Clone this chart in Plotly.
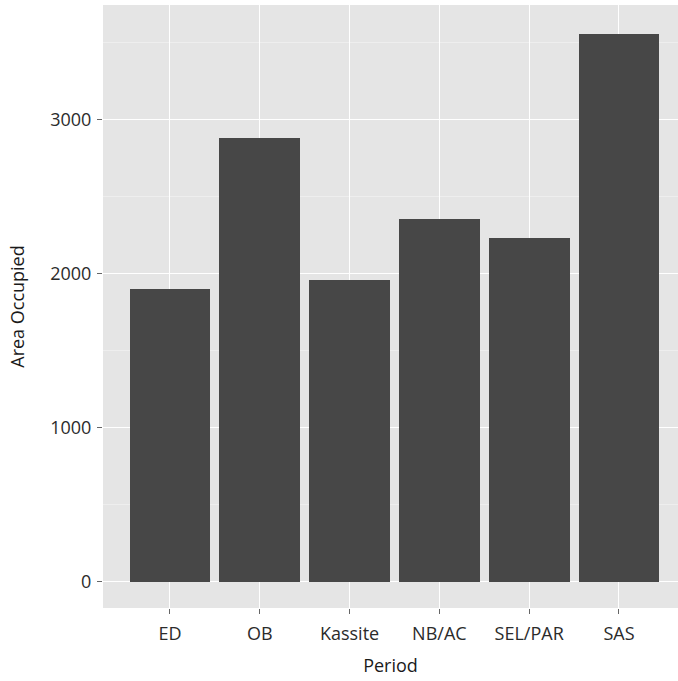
import plotly.graph_objects as go

periods = ["ED", "OB", "Kassite", "NB/AC", "SEL/PAR", "SAS"]
area_occupied = [1897, 2881, 1957, 2353, 2231, 3557]
y_ticks = [0, 1000, 2000, 3000]

FONT = "Open Sans"

fig = go.Figure(go.Bar(
    x=list(range(len(periods))),
    y=area_occupied,
    width=0.9,
    marker=dict(color="#474747", line=dict(width=0)),
))

fig.update_layout(
    width=678, height=681,
    margin=dict(l=103, r=0, t=5, b=73),
    paper_bgcolor="white",
    plot_bgcolor="#E5E5E5",
    showlegend=False,
    font=dict(family=FONT, size=18, color="#333333"),
    bargap=0,
)

fig.update_xaxes(
    range=[-0.745, 5.657],
    tickmode="array",
    tickvals=list(range(len(periods))),
    ticktext=periods,
    showgrid=True, gridcolor="white", gridwidth=1,
    zeroline=False,
    ticks="outside", ticklen=5, tickcolor="#666666", tickwidth=1,
    tickfont=dict(family=FONT, size=18, color="#2b2b2b"),
    ticklabelstandoff=4,
    title=dict(text="Period", font=dict(family=FONT, size=18, color="#1a1a1a"), standoff=15),
    showline=False,
)

fig.update_yaxes(
    range=[-172, 3742],
    tickmode="array",
    tickvals=y_ticks,
    ticktext=[str(v) for v in y_ticks],
    showgrid=True, gridcolor="white", gridwidth=1.2,
    minor=dict(showgrid=True, gridcolor="#EEEEEE", gridwidth=1, dtick=500, tick0=0, ticks=""),
    zeroline=False,
    ticks="outside", ticklen=5, tickcolor="#666666", tickwidth=1,
    tickfont=dict(family=FONT, size=18, color="#2b2b2b"),
    ticklabelstandoff=2,
    title=dict(text="Area Occupied", font=dict(family=FONT, size=18, color="#1a1a1a"), standoff=20),
    showline=False,
)

fig.write_html(
    "out.html",
    config={"displayModeBar": False},
    post_script="document.body.style.margin='0';document.body.style.overflow='hidden';",
)
